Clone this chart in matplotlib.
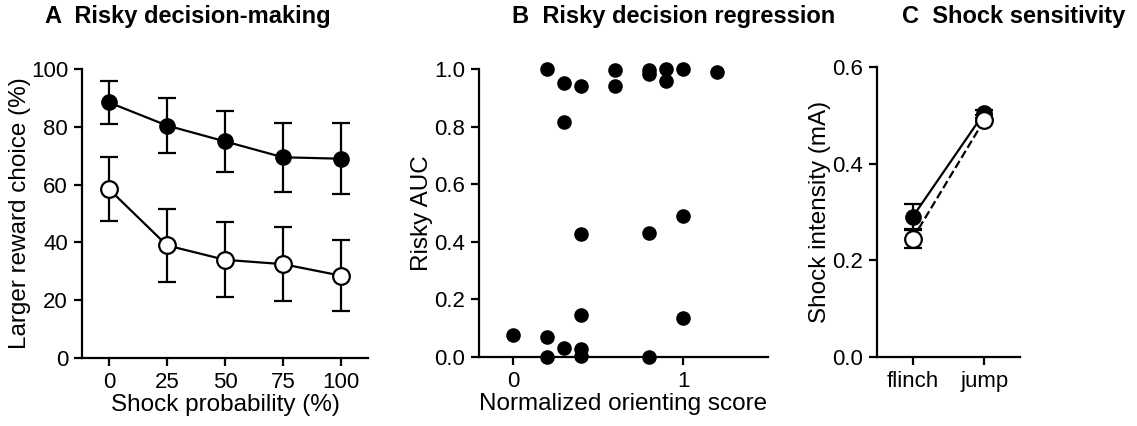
import matplotlib
matplotlib.use("Agg")
import matplotlib.pyplot as plt

plt.rcParams['font.family'] = ['Liberation Sans', 'DejaVu Sans']
plt.rcParams['font.size'] = 16

# Panel A data
shock_prob = [0, 25, 50, 75, 100]
filled_mean = [88.5, 80.5, 75.0, 69.5, 69.0]
filled_err = [7.5, 9.5, 10.5, 12.0, 12.3]
open_mean = [58.5, 39.0, 34.0, 32.5, 28.5]
open_err = [11.0, 12.7, 13.0, 12.7, 12.3]

# Panel B data
orient_score = [0.0, 0.2, 0.2, 0.2, 0.3, 0.3, 0.3, 0.4, 0.4, 0.4, 0.4, 0.4,
                0.6, 0.6, 0.8, 0.8, 0.8, 0.8, 0.9, 0.9, 1.0, 1.0, 1.0, 1.2]
risky_auc = [0.077, 1.0, 0.068, 0.0, 0.953, 0.817, 0.031, 0.942, 0.427, 0.147, 0.029, 0.005,
             0.997, 0.942, 0.997, 0.983, 0.429, 0.0, 0.999, 0.96, 0.999, 0.488, 0.135, 0.988]

# Panel C data
behaviours = ['flinch', 'jump']
shock_filled = [0.29, 0.505]
shock_filled_err = [0.027, 0.005]
shock_open = [0.245, 0.49]
shock_open_err = [0.02, 0.005]

LABEL_FS = 17.5
TICK_FS = 16
TITLE_FS = 17

fig = plt.figure(figsize=(11.37, 4.26), dpi=100)

def style(ax):
    for s in ['top', 'right']:
        ax.spines[s].set_visible(False)
    for s in ['left', 'bottom']:
        ax.spines[s].set_linewidth(1.6)
    ax.tick_params(width=1.6, length=6, labelsize=TICK_FS, pad=4)

# A
axA = fig.add_axes([0.0721, 0.1596, 0.2515, 0.678])
axA.errorbar(shock_prob, filled_mean, yerr=filled_err, color='black', lw=1.6,
             marker='o', ms=11, mfc='black', mec='black', capsize=6.5, capthick=1.6,
             elinewidth=1.6, clip_on=False, zorder=3)
axA.errorbar(shock_prob, open_mean, yerr=open_err, color='black', lw=1.6,
             marker='o', ms=12, mfc='white', mec='black', mew=1.6, capsize=6.5,
             capthick=1.6, elinewidth=1.6, clip_on=False, zorder=3)
axA.set_xlim(-11.6, 111.6)
axA.set_ylim(0, 100)
axA.set_xticks(shock_prob)
axA.set_yticks([0, 20, 40, 60, 80, 100])
axA.set_xlabel('Shock probability (%)', fontsize=LABEL_FS, labelpad=1)
axA.set_ylabel('Larger reward choice (%)', fontsize=LABEL_FS, labelpad=0)
style(axA)

# B
axB = fig.add_axes([0.4213, 0.162, 0.2542, 0.676])
axB.scatter(orient_score, risky_auc, s=90, color='black', clip_on=False, zorder=3)
axB.set_xlim(-0.2, 1.5)
axB.set_ylim(0, 1.0)
axB.set_xticks([0, 1])
axB.set_yticks([0.0, 0.2, 0.4, 0.6, 0.8, 1.0])
axB.set_yticklabels(['0.0', '0.2', '0.4', '0.6', '0.8', '1.0'])
axB.set_xlabel('Normalized orienting score', fontsize=LABEL_FS, labelpad=1)
axB.set_ylabel('Risky AUC', fontsize=LABEL_FS, labelpad=1)
style(axB)

# C
axC = fig.add_axes([0.7713, 0.162, 0.1258, 0.681])
xc = range(len(behaviours))
axC.errorbar(xc, shock_filled, yerr=shock_filled_err, color='black', lw=1.6,
             marker='o', ms=11, mfc='black', mec='black', capsize=6.5, capthick=1.6,
             elinewidth=1.6, clip_on=False, zorder=3)
axC.errorbar(xc, shock_open, yerr=shock_open_err, color='black', lw=1.6, ls='--',
             marker='o', ms=12, mfc='white', mec='black', mew=1.6, capsize=6.5,
             capthick=1.6, elinewidth=1.6, clip_on=False, zorder=4)
axC.set_xlim(-0.5, 1.5)
axC.set_ylim(0, 0.6)
axC.set_xticks(list(xc))
axC.set_xticklabels(behaviours, fontsize=LABEL_FS - 0.5)
axC.set_yticks([0.0, 0.2, 0.4, 0.6])
axC.set_yticklabels(['0.0', '0.2', '0.4', '0.6'])
axC.set_ylabel('Shock intensity (mA)', fontsize=LABEL_FS, labelpad=1)
style(axC)

# panel titles
fig.text(45 / 1137, 1 - 17 / 426, 'A  Risky decision-making', fontsize=TITLE_FS,
         fontweight='bold', ha='left', va='center')
fig.text(512 / 1137, 1 - 17 / 426, 'B  Risky decision regression', fontsize=TITLE_FS,
         fontweight='bold', ha='left', va='center')
fig.text(902 / 1137, 1 - 17 / 426, 'C  Shock sensitivity', fontsize=TITLE_FS,
         fontweight='bold', ha='left', va='center')

fig.savefig('out.png', dpi=100, facecolor='white')
